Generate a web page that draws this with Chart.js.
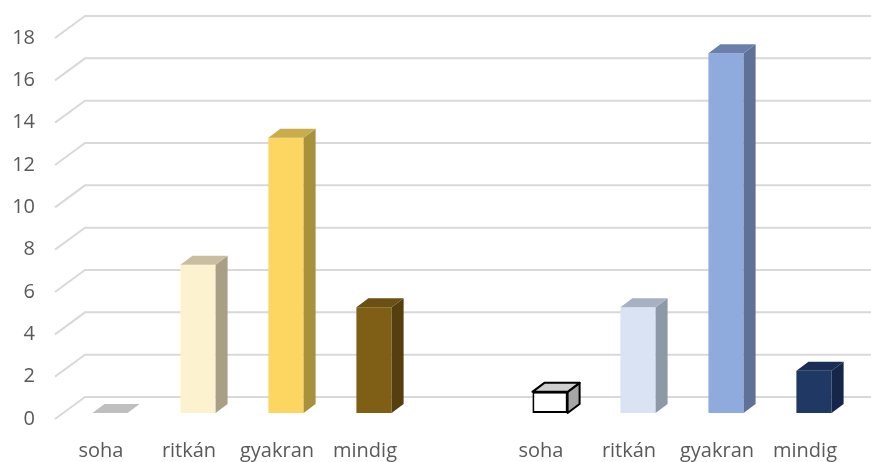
<!DOCTYPE html>
<html>
<head>
<meta charset="utf-8">
<script src="https://cdn.jsdelivr.net/npm/chart.js@4/dist/chart.umd.min.js"></script>
<style>
html,body{margin:0;padding:0;background:#fff;}
canvas{display:block;}
</style>
</head>
<body>
<canvas id="c" width="871" height="462"></canvas>
<script>
// ---- data ----
const categories = ["soha", "ritkán", "gyakran", "mindig", "", "soha", "ritkán", "gyakran", "mindig"];
const values = [0, 7, 13, 5, null, 1, 5, 17, 2];
const yTicks = [0, 2, 4, 6, 8, 10, 12, 14, 16, 18];

// ---- styles ----
const frontColors = ["#bfbfbf", "#fdf2d0", "#fcd660", "#7f5f16", "#ffffff", "#ffffff", "#dae3f3", "#8faadc", "#203864"];
const sideColors  = ["#a6a6a6", "#a89f85", "#a8913c", "#553f0e", "#ffffff", "#a6a6a6", "#8e99a8", "#5f7196", "#15264a"];
const topColors   = ["#bfbfbf", "#c9bfa0", "#c9ac4c", "#6a5012", "#ffffff", "#d0d0d0", "#a6b2c2", "#6a80ab", "#1a2e55"];
const outline     = [null, null, null, null, null, "#000000", null, null, null];
const DX = 12, DY = -9;

const threeD = {
  id: 'threeD',
  beforeDatasetsDraw(chart) {
    const ctx = chart.ctx, ys = chart.scales.y, L = chart.chartArea.left;
    ctx.save();
    ctx.strokeStyle = '#d9d9d9';
    ctx.lineWidth = 2;
    yTicks.forEach(v => {
      const py = ys.getPixelForValue(v);
      ctx.beginPath();
      ctx.moveTo(L - 11, py + 6);
      ctx.lineTo(L + 19, py - 16);
      ctx.lineTo(chart.width, py - 16);
      ctx.stroke();
    });
    ctx.restore();
  },
  afterDatasetsDraw(chart) {
    const ctx = chart.ctx;
    const meta = chart.getDatasetMeta(0);
    meta.data.forEach((bar, i) => {
      if (values[i] == null) return;
      const p = bar.getProps(['x', 'y', 'base', 'width'], true);
      const l = p.x - p.width / 2, r = p.x + p.width / 2, t = p.y, b = p.base;
      ctx.save();
      ctx.lineJoin = 'round';
      if (b - t > 0.5) {
        ctx.beginPath();
        ctx.moveTo(r, t); ctx.lineTo(r + DX, t + DY); ctx.lineTo(r + DX, b + DY); ctx.lineTo(r, b); ctx.closePath();
        ctx.fillStyle = sideColors[i]; ctx.fill();
        if (outline[i]) { ctx.strokeStyle = outline[i]; ctx.lineWidth = 2; ctx.stroke(); }
      }
      ctx.beginPath();
      ctx.moveTo(l, t); ctx.lineTo(l + DX, t + DY); ctx.lineTo(r + DX, t + DY); ctx.lineTo(r, t); ctx.closePath();
      ctx.fillStyle = topColors[i]; ctx.fill();
      if (outline[i]) { ctx.strokeStyle = outline[i]; ctx.lineWidth = 2; ctx.stroke(); }
      ctx.restore();
    });
  }
};

new Chart(document.getElementById('c'), {
  type: 'bar',
  data: {
    labels: categories,
    datasets: [{
      data: values,
      backgroundColor: frontColors,
      borderColor: outline.map(c => c || 'rgba(0,0,0,0)'),
      borderWidth: outline.map(c => c ? 2 : 0),
      borderSkipped: false,
      barPercentage: 0.4,
      categoryPercentage: 1.0
    }]
  },
  options: {
    responsive: false,
    animation: false,
    devicePixelRatio: 1,
    layout: { padding: { top: 32, right: 13, left: 0, bottom: 0 } },
    plugins: { legend: { display: false }, tooltip: { enabled: false } },
    scales: {
      x: {
        grid: { display: false, drawTicks: false },
        border: { display: false },
        ticks: { color: '#595959', font: { family: 'Open Sans', size: 20 }, padding: 26, labelOffset: -9, maxRotation: 0, autoSkip: false },
        afterFit(s) { s.height = 49; s.paddingLeft = 0; s.paddingRight = 0; }
      },
      y: {
        min: 0, max: 18,
        grid: { display: false, drawTicks: false },
        border: { display: false },
        ticks: { stepSize: 2, color: '#595959', font: { family: 'Open Sans', size: 20 }, padding: 31, labelOffset: 6 },
        afterFit(s) { s.width = 66; s.paddingTop = 10; s.paddingBottom = 0; }
      }
    }
  },
  plugins: [threeD]
});
</script>
</body>
</html>
